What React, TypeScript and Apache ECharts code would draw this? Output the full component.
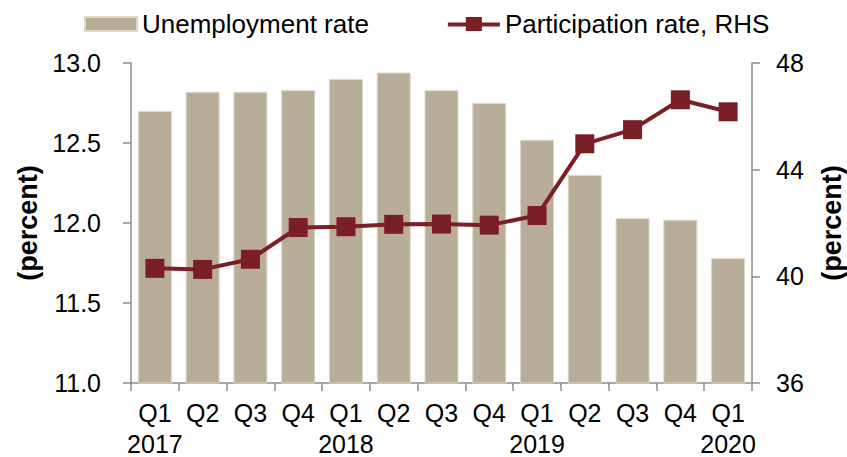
import React, { useEffect, useRef } from "react";
import * as echarts from "echarts";

const quarters = ["Q1", "Q2", "Q3", "Q4", "Q1", "Q2", "Q3", "Q4", "Q1", "Q2", "Q3", "Q4", "Q1"];
const years = ["2017", "", "", "", "2018", "", "", "", "2019", "", "", "", "2020"];
const unemploymentRate = [12.7, 12.82, 12.82, 12.83, 12.9, 12.94, 12.83, 12.75, 12.52, 12.3, 12.03, 12.02, 11.78];
const participationRate = [40.3, 40.26, 40.64, 41.83, 41.86, 41.95, 41.96, 41.92, 42.28, 44.97, 45.5, 46.62, 46.17];
const leftTicks = { min: 11, max: 13, interval: 0.5 };
const rightTicks = { min: 36, max: 48, interval: 4 };

const FONT = "Arial, 'Liberation Sans', sans-serif";
const LINE_COLOR = "#7b1f26";
const BAR_COLOR = "#b9ad97";

export default function App() {
  const ref = useRef<HTMLDivElement>(null);
  useEffect(() => {
    if (!ref.current) return;
    const chart = echarts.init(ref.current, null, { renderer: "svg" });
    const categories = quarters.map((q, i) => (years[i] ? q + "\n" + years[i] : q));
    const axisLine = { show: true, lineStyle: { color: "#8c8c8c", width: 1.5 } };
    const tick = { show: true, length: 8, lineStyle: { color: "#8c8c8c", width: 1.5 } };
    const nameStyle = { fontSize: 27, fontWeight: "bold", color: "#000", fontFamily: FONT };
    chart.setOption({
      animation: false,
      backgroundColor: "#ffffff",
      textStyle: { fontFamily: FONT, color: "#000" },
      legend: {
        left: 84,
        top: 11,
        padding: 0,
        itemWidth: 52,
        itemHeight: 14,
        itemGap: 79,
        textStyle: { fontSize: 26, color: "#000", fontFamily: FONT },
        data: [
          { name: "Unemployment rate", icon: "rect" },
          {
            name: "Participation rate, RHS",
            icon: "path://M0,5.5L18,5.5L18,0L34,0L34,5.5L52,5.5L52,9.5L34,9.5L34,14L18,14L18,9.5L0,9.5Z",
            itemStyle: { color: LINE_COLOR },
          },
        ],
      },
      grid: { left: 131, right: 95, top: 63, bottom: 74, containLabel: false, outerBoundsMode: "none" },
      xAxis: {
        type: "category",
        data: categories,
        boundaryGap: true,
        axisLine,
        axisTick: { ...tick, alignWithLabel: false },
        axisLabel: {
          interval: 0,
          fontSize: 25,
          color: "#000",
          fontFamily: FONT,
          lineHeight: 31,
          margin: 14,
        },
      },
      yAxis: [
        {
          type: "value",
          min: leftTicks.min,
          max: leftTicks.max,
          interval: leftTicks.interval,
          position: "left",
          name: "(percent)",
          nameLocation: "middle",
          nameGap: 83,
          nameRotate: 90,
          nameTextStyle: nameStyle,
          axisLine,
          axisTick: tick,
          axisLabel: {
            fontSize: 25,
            color: "#000",
            fontFamily: FONT,
            margin: 30,
            formatter: (v: number) => v.toFixed(1),
          },
          splitLine: { show: false },
        },
        {
          type: "value",
          min: rightTicks.min,
          max: rightTicks.max,
          interval: rightTicks.interval,
          position: "right",
          name: "(percent)",
          nameLocation: "middle",
          nameGap: 66,
          nameRotate: 90,
          nameTextStyle: nameStyle,
          axisLine,
          axisTick: tick,
          axisLabel: { fontSize: 25, color: "#000", fontFamily: FONT, margin: 24 },
          splitLine: { show: false },
        },
      ],
      series: [
        {
          name: "Unemployment rate",
          type: "bar",
          yAxisIndex: 0,
          data: unemploymentRate,
          barWidth: 34,
          itemStyle: { color: BAR_COLOR, borderColor: "#ddd6c9", borderWidth: 1 },
        },
        {
          name: "Participation rate, RHS",
          type: "line",
          yAxisIndex: 1,
          data: participationRate,
          symbol: "rect",
          symbolSize: 19,
          lineStyle: { color: LINE_COLOR, width: 4 },
          itemStyle: { color: LINE_COLOR },
        },
      ],
    });
    return () => chart.dispose();
  }, []);
  return (
    <div
      ref={ref}
      style={{ position: "absolute", left: 0, top: 0, width: 847, height: 457 }}
    />
  );
}
